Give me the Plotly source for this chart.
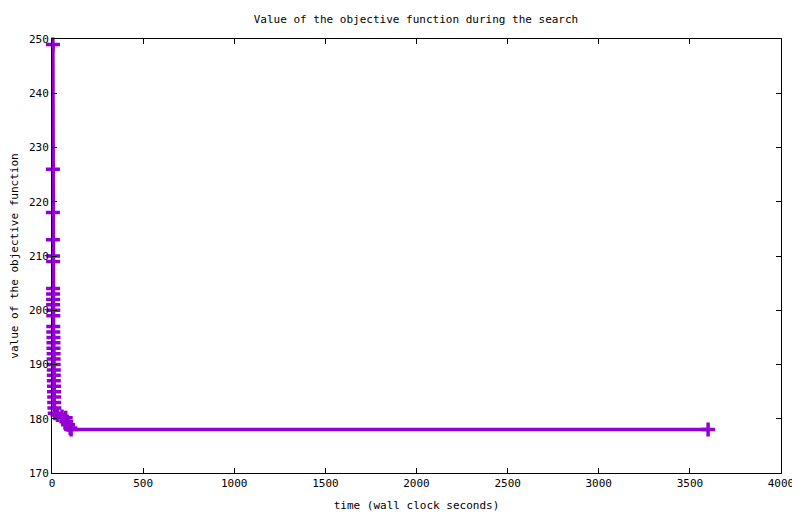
import plotly.graph_objects as go

# wall clock time (s) and objective value
time_s = [5, 5, 5, 5, 6, 6, 6, 6, 6, 6, 7, 7, 7, 7, 8, 8, 8, 9, 9, 9,
          10, 10, 10, 11, 11, 12, 12, 13, 15, 30, 55, 75, 78, 88, 100, 105, 3600]
objective = [249, 226, 218, 213, 210, 209, 204, 203, 202, 201, 200, 199, 197,
             196, 195, 194, 193, 192, 191, 190, 189, 188, 187, 186, 185, 184,
             183, 182, 181, 180.7, 180.4, 180.2, 179.5, 178.9, 178.3, 178, 178]

x_ticks = [0, 500, 1000, 1500, 2000, 2500, 3000, 3500, 4000]
y_ticks = [170, 180, 190, 200, 210, 220, 230, 240, 250]

purple = "#9400D3"
font = "DejaVu Sans Mono"

fig = go.Figure()
fig.add_trace(go.Scatter(
    x=time_s, y=objective, mode="lines+markers",
    line=dict(color=purple, width=3.5),
    marker=dict(symbol="cross-thin", size=10, color=purple,
                line=dict(color=purple, width=3.5)),
    cliponaxis=False,
    showlegend=False,
))

axis_style = dict(showline=True, linecolor="black", linewidth=1, mirror="ticks",
                  ticks="inside", ticklen=5, tickcolor="black", showgrid=False,
                  zeroline=False, automargin=False,
                  tickfont=dict(family=font, size=11, color="black"))

fig.update_xaxes(range=[0, 4000], tickvals=x_ticks,
                 title=dict(text="time (wall clock seconds)", standoff=12,
                            font=dict(family=font, size=11, color="black")),
                 **axis_style)
fig.update_yaxes(range=[170, 250], tickvals=y_ticks,
                 title=dict(text="value of the objective function", standoff=11,
                            font=dict(family=font, size=11, color="black")),
                 **axis_style)

# the page adds an 8px body margin, so margins are shifted by that amount
fig.update_layout(
    width=800, height=514,
    margin=dict(l=44, r=27, t=31, b=49),
    plot_bgcolor="white", paper_bgcolor="white",
    title=dict(text="Value of the objective function during the search",
               x=0.51, xanchor="center", y=0.979, yanchor="middle",
               font=dict(family=font, size=11, color="black")),
)

fig.write_html("out.html")
